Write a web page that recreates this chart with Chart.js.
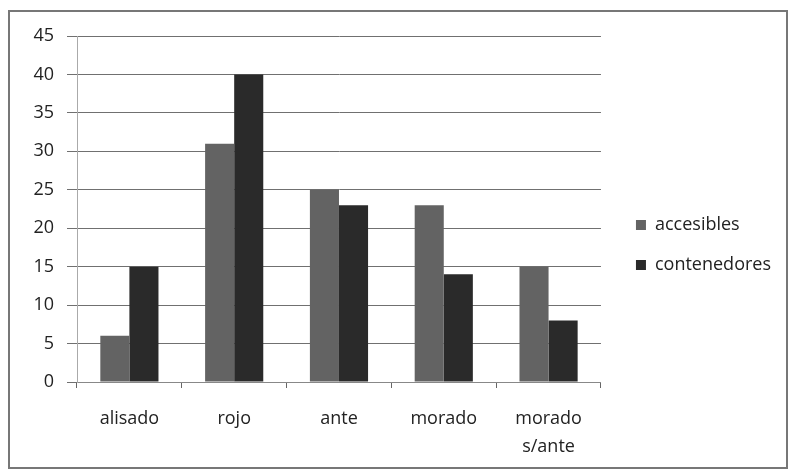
<!DOCTYPE html>
<html>
<head>
<meta charset="utf-8">
<script src="https://cdn.jsdelivr.net/npm/chart.js@4"></script>
<style>
  html, body { margin: 0; padding: 0; background: #fff; }
  #marco { position: absolute; left: 8px; top: 10px; width: 780px; height: 459px;
           border: 2px solid #777; box-sizing: border-box; }
  #lienzo { position: absolute; left: 0; top: 0; }
</style>
</head>
<body>
<div id="marco"></div>
<canvas id="lienzo" width="791" height="474"></canvas>
<script>
"use strict";

var categorias   = ['alisado', 'rojo', 'ante', 'morado', ['morado', 's/ante']];
var accesibles   = [6, 31, 25, 23, 15];
var contenedores = [15, 40, 23, 14, 8];
var ticksY       = [0, 5, 10, 15, 20, 25, 30, 35, 40, 45];

var fuente = "'Open Sans', 'Liberation Sans', sans-serif";
var HUECO  = 13;   /* espacio extra entre el gráfico y la leyenda */

/* ensancha la leyenda por la izquierda sin mover su contenido */
var huecoLeyenda = {
  id: 'huecoLeyenda',
  beforeUpdate: function (chart) {
    var leg = chart.legend;
    if (!leg || leg._hueco) return;
    leg._hueco = true;
    var fit0 = leg.fit, draw0 = leg.draw;
    leg.fit = function () { fit0.apply(this, arguments); this.width += HUECO; };
    leg.draw = function () {
      var c = this.ctx;
      c.save(); c.translate(HUECO, 0);
      draw0.apply(this, arguments);
      c.restore();
    };
  }
};

new Chart(document.getElementById('lienzo'), {
  type: 'bar',
  data: {
    labels: categorias,
    datasets: [
      { label: 'accesibles',   data: accesibles,   backgroundColor: '#636363' },
      { label: 'contenedores', data: contenedores, backgroundColor: '#2a2a2a' }
    ]
  },
  options: {
    responsive: false,
    animation: false,
    layout: { padding: { left: 20, right: 10, top: 36, bottom: 20 } },
    datasets: { bar: { categoryPercentage: 0.555, barPercentage: 1.0 } },
    scales: {
      x: {
        afterFit: function (s) { s.height = 72; },
        grid: { drawOnChartArea: false, drawTicks: true, tickLength: 6, offset: true, color: '#666' },
        border: { color: '#888' },
        ticks: { color: '#222', font: { family: fuente, size: 18, lineHeight: 1.55 }, padding: 17, maxRotation: 0 }
      },
      y: {
        min: 0, max: 45,
        afterFit: function (s) { s.width = 57; },
        afterBuildTicks: function (s) { s.ticks = ticksY.map(function (v) { return { value: v }; }); },
        grid: { color: '#707070', lineWidth: 1, tickLength: 10 },
        border: { color: '#aaa' },
        ticks: { color: '#222', font: { family: fuente, size: 18 }, padding: 13 }
      }
    },
    plugins: {
      legend: {
        position: 'right',
        labels: {
          color: '#222',
          font: { family: fuente, size: 18 },
          boxWidth: 10, boxHeight: 10, padding: 22
        }
      },
      tooltip: { enabled: false }
    }
  },
  plugins: [huecoLeyenda]
});
</script>
</body>
</html>
